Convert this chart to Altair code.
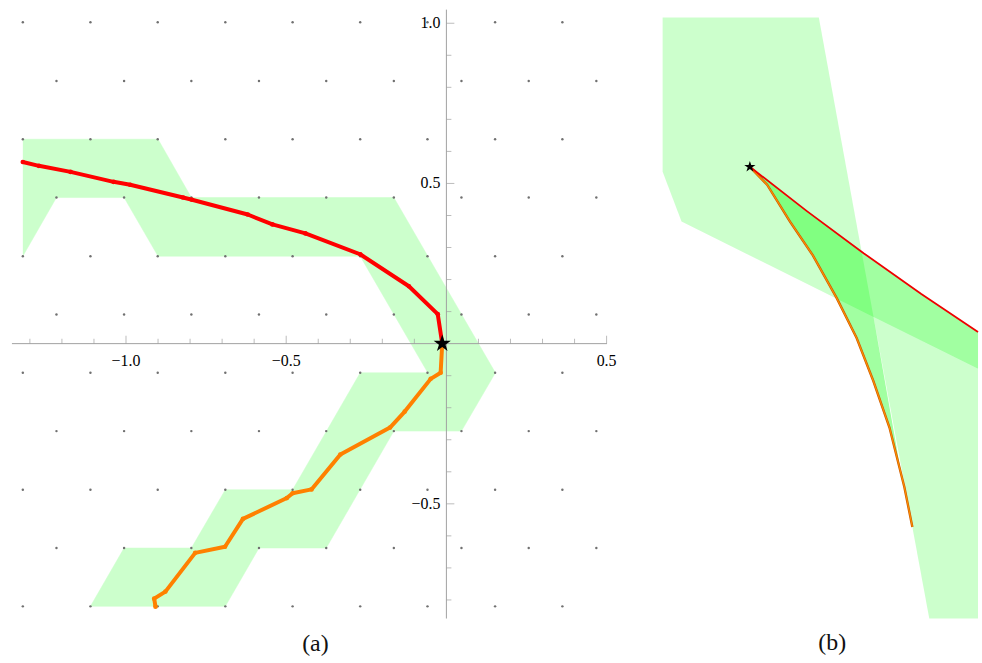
import altair as alt
import pandas as pd

# ---------------- Panel (a) data ----------------
dot_rows_y = [1.003, 0.820, 0.638, 0.456, 0.273, 0.091, -0.091, -0.273, -0.456, -0.638, -0.820]
dot_x_odd = [-1.322, -1.111, -0.901, -0.690, -0.480, -0.269, -0.059, 0.152, 0.362]
dot_x_even = [-1.217, -1.006, -0.796, -0.585, -0.375, -0.164, 0.047, 0.257, 0.468]

region_x = [-1.322, -0.900, -0.796, -0.164, 0.153, 0.047, -0.164, -0.375, -0.585, -0.690,
            -1.111, -1.006, -0.796, -0.690, -0.480, -0.269, -0.058, -0.269, -0.900, -1.006,
            -1.217, -1.322]
region_y = [0.638, 0.638, 0.456, 0.456, -0.091, -0.273, -0.273, -0.638, -0.638, -0.820,
            -0.820, -0.638, -0.638, -0.456, -0.456, -0.091, -0.091, 0.273, 0.273, 0.456,
            0.456, 0.273]

red_x = [-1.322, -1.272, -1.173, -1.039, -0.987, -0.822, -0.794, -0.620, -0.543, -0.440,
         -0.269, -0.117, -0.027, -0.013]
red_y = [0.567, 0.555, 0.536, 0.505, 0.496, 0.456, 0.449, 0.403, 0.372, 0.344,
         0.279, 0.179, 0.092, 0.0]
orange_x = [-0.013, -0.018, -0.049, -0.130, -0.176, -0.331, -0.421, -0.480, -0.498, -0.635,
            -0.691, -0.784, -0.877, -0.912, -0.908]
orange_y = [0.0, -0.091, -0.110, -0.212, -0.262, -0.346, -0.455, -0.467, -0.482, -0.547,
            -0.634, -0.653, -0.774, -0.796, -0.821]
star_a = (-0.013, 0.0)

x_range = [-1.356, 0.501]
y_range = [-0.858, 1.0425]
x_major = [-1.0, -0.5, 0.5]
x_major_labels = ["\u22121.0", "\u22120.5", "0.5"]
x_minor = [-1.3, -1.2, -1.1, -0.9, -0.8, -0.7, -0.6, -0.4, -0.3, -0.2, -0.1, 0.1, 0.2, 0.3, 0.4]
y_major = [1.0, 0.5, -0.5]
y_major_labels = ["1.0", "0.5", "\u22120.5"]
y_minor = [0.9, 0.8, 0.7, 0.6, 0.4, 0.3, 0.2, 0.1, -0.1, -0.2, -0.3, -0.4, -0.6, -0.7, -0.8]

# ---------------- Panel (b) data ----------------
b_cell1_x = [0.0, 1.57, 2.12, 0.19, 0.0]
b_cell1_y = [6.04, 6.04, 3.03, 3.99, 4.49]
b_cell2_x = [2.12, 3.17, 3.17, 2.68]
b_cell2_y = [3.03, 2.51, 0.0, 0.0]
b_red_x = [0.877, 1.45, 2.02, 2.60, 3.17]
b_red_y = [4.54, 4.095, 3.672, 3.262, 2.88]
b_orange_x = [0.877, 1.05, 1.28, 1.51, 1.75, 1.95, 2.117, 2.28, 2.43, 2.51]
b_orange_y = [4.54, 4.36, 3.99, 3.65, 3.22, 2.82, 2.39, 1.92, 1.32, 0.92]
b_band_edge_x = [3.17, 2.12, 2.41]
b_band_edge_y = [2.51, 3.03, 1.39]
star_b = (0.877, 4.54)

STAR = ("M0,-1L0.2245,-0.309L0.951,-0.309L0.363,0.118L0.588,0.809L0,0.382"
        "L-0.588,0.809L-0.363,0.118L-0.951,-0.309L-0.2245,-0.309Z")
AXIS_GRAY = "#a0a0a0"
FONT = "Liberation Serif, Times New Roman, DejaVu Serif, serif"

# ---------------- Build panel (a) ----------------
WA, HA = 598, 612
xs_a = alt.Scale(domain=x_range, nice=False, zero=False)
ys_a = alt.Scale(domain=y_range, nice=False, zero=False)

def XA(f="x"):
    return alt.X(f + ":Q", scale=xs_a, axis=None)

def YA(f="y"):
    return alt.Y(f + ":Q", scale=ys_a, axis=None)

dots = []
for j, yv in enumerate(dot_rows_y):
    xs_row = dot_x_odd if j % 2 == 0 else dot_x_even
    for xv in xs_row:
        dots.append({"x": xv, "y": yv})
dots_df = pd.DataFrame(dots)

region_df = pd.DataFrame({"x": region_x, "y": region_y, "i": range(len(region_x))})
red_df = pd.DataFrame({"x": red_x, "y": red_y, "i": range(len(red_x))})
orange_df = pd.DataFrame({"x": orange_x, "y": orange_y, "i": range(len(orange_x))})
star_a_df = pd.DataFrame({"x": [star_a[0]], "y": [star_a[1]]})

xaxis_df = pd.DataFrame({"x": [x_range[0]], "x2": [x_range[1]], "y": [0.0]})
yaxis_df = pd.DataFrame({"y": [y_range[0]], "y2": [y_range[1]], "x": [0.0]})
xmaj_df = pd.DataFrame({"x": x_major, "y": [0.0] * len(x_major), "t": x_major_labels})
xmin_df = pd.DataFrame({"x": x_minor, "y": [0.0] * len(x_minor)})
ymaj_df = pd.DataFrame({"x": [0.0] * len(y_major), "y": y_major, "t": y_major_labels})
ymin_df = pd.DataFrame({"x": [0.0] * len(y_minor), "y": y_minor})

region_a = alt.Chart(region_df).mark_line(
    fill="#ccffcc", color="#ccffcc", strokeWidth=0.5
).encode(x=XA(), y=YA(), order="i:Q")

dots_a = alt.Chart(dots_df).mark_circle(size=6, color="#707070", opacity=1).encode(x=XA(), y=YA())

xaxis_line = alt.Chart(xaxis_df).mark_rule(color=AXIS_GRAY, strokeWidth=1).encode(
    x=XA("x"), x2="x2:Q", y=YA("y"))
yaxis_line = alt.Chart(yaxis_df).mark_rule(color=AXIS_GRAY, strokeWidth=1).encode(
    y=YA("y"), y2="y2:Q", x=XA("x"))

xmaj_ticks = alt.Chart(xmaj_df).mark_tick(orient="vertical", size=8, thickness=1, yOffset=-4,
                                          color=AXIS_GRAY).encode(x=XA(), y=YA())
xmin_ticks = alt.Chart(xmin_df).mark_tick(orient="vertical", size=5, thickness=1, yOffset=-2.5,
                                          color=AXIS_GRAY).encode(x=XA(), y=YA())
ymaj_ticks = alt.Chart(ymaj_df).mark_tick(orient="horizontal", size=8, thickness=1, xOffset=4,
                                          color=AXIS_GRAY).encode(x=XA(), y=YA())
ymin_ticks = alt.Chart(ymin_df).mark_tick(orient="horizontal", size=5, thickness=1, xOffset=2.5,
                                          color=AXIS_GRAY).encode(x=XA(), y=YA())

xlabels = alt.Chart(xmaj_df).mark_text(font=FONT, fontSize=16, baseline="top", align="center",
                                       dy=9, color="#000").encode(x=XA(), y=YA(), text="t:N")
ylabels = alt.Chart(ymaj_df).mark_text(font=FONT, fontSize=16, baseline="middle", align="right",
                                       dx=-6, color="#000").encode(x=XA(), y=YA(), text="t:N")

red_line = alt.Chart(red_df).mark_line(color="#ff0000", strokeWidth=4, strokeJoin="round").encode(
    x=XA(), y=YA(), order="i:Q")
red_pts = alt.Chart(red_df).mark_circle(color="#ff0000", size=22, opacity=1).encode(x=XA(), y=YA())
orange_line = alt.Chart(orange_df).mark_line(color="#ff8000", strokeWidth=4, strokeJoin="round").encode(
    x=XA(), y=YA(), order="i:Q")
orange_pts = alt.Chart(orange_df).mark_circle(color="#ff8000", size=22, opacity=1).encode(x=XA(), y=YA())
star_a_mark = alt.Chart(star_a_df).mark_point(shape=STAR, size=330, filled=True, color="black",
                                              opacity=1).encode(x=XA(), y=YA())

panel_a = alt.layer(
    region_a, xaxis_line, yaxis_line, xmin_ticks, xmaj_ticks, ymin_ticks, ymaj_ticks,
    dots_a, xlabels, ylabels, orange_line, orange_pts, red_line, red_pts, star_a_mark
).properties(
    width=WA, height=HA,
    title=alt.TitleParams("(a)", orient="bottom", anchor="middle", font=FONT, fontSize=24,
                          fontWeight="normal", color="#111", offset=13, dx=6)
)

# ---------------- Build panel (b) ----------------
WB, HB = 317, 612
xs_b = alt.Scale(domain=[0, 3.17], nice=False, zero=False)
ys_b = alt.Scale(domain=[0, 6.12], nice=False, zero=False)

def XB():
    return alt.X("x:Q", scale=xs_b, axis=None)

def YB():
    return alt.Y("y:Q", scale=ys_b, axis=None)

cell1_df = pd.DataFrame({"x": b_cell1_x, "y": b_cell1_y, "i": range(len(b_cell1_x))})
cell2_df = pd.DataFrame({"x": b_cell2_x, "y": b_cell2_y, "i": range(len(b_cell2_x))})
funnel_x = b_red_x + b_band_edge_x + b_orange_x[::-1][2:-1]
funnel_y = b_red_y + b_band_edge_y + b_orange_y[::-1][2:-1]
funnel_df = pd.DataFrame({"x": funnel_x, "y": funnel_y, "i": range(len(funnel_x))})
bred_df = pd.DataFrame({"x": b_red_x, "y": b_red_y, "i": range(len(b_red_x))})
borange_df = pd.DataFrame({"x": b_orange_x, "y": b_orange_y, "i": range(len(b_orange_x))})
star_b_df = pd.DataFrame({"x": [star_b[0]], "y": [star_b[1]]})

cell1 = alt.Chart(cell1_df).mark_line(fill="#00ff00", fillOpacity=0.2, strokeOpacity=0,
                                      color="#00ff00").encode(x=XB(), y=YB(), order="i:Q")
cell2 = alt.Chart(cell2_df).mark_line(fill="#00ff00", fillOpacity=0.2, strokeOpacity=0,
                                      color="#00ff00").encode(x=XB(), y=YB(), order="i:Q")
funnel = alt.Chart(funnel_df).mark_line(fill="#00ff00", fillOpacity=0.37, strokeOpacity=0,
                                        color="#00ff00").encode(x=XB(), y=YB(), order="i:Q")
borange_edge = alt.Chart(borange_df).mark_line(color="#c85a00", strokeWidth=2.4).encode(
    x=XB(), y=YB(), order="i:Q")
borange = alt.Chart(borange_df).mark_line(color="#ff8c00", strokeWidth=1.2).encode(
    x=XB(), y=YB(), order="i:Q")
bred = alt.Chart(bred_df).mark_line(color="#ee0000", strokeWidth=1.8).encode(
    x=XB(), y=YB(), order="i:Q")
star_b_mark = alt.Chart(star_b_df).mark_point(shape=STAR, size=140, filled=True, color="black",
                                              opacity=1).encode(x=XB(), y=YB())

panel_b = alt.layer(cell1, cell2, funnel, borange_edge, borange, bred, star_b_mark).properties(
    width=WB, height=HB,
    title=alt.TitleParams("(b)", orient="bottom", anchor="middle", font=FONT, fontSize=24,
                          fontWeight="normal", color="#111", offset=13, dx=12)
)

chart = alt.hconcat(panel_a, panel_b, spacing=56, bounds="flush").properties(
    padding={"left": 11, "top": 7, "right": 0, "bottom": 0}
).configure_view(strokeOpacity=0)

chart.save("out.html", embed_options={"renderer": "svg", "actions": False})
